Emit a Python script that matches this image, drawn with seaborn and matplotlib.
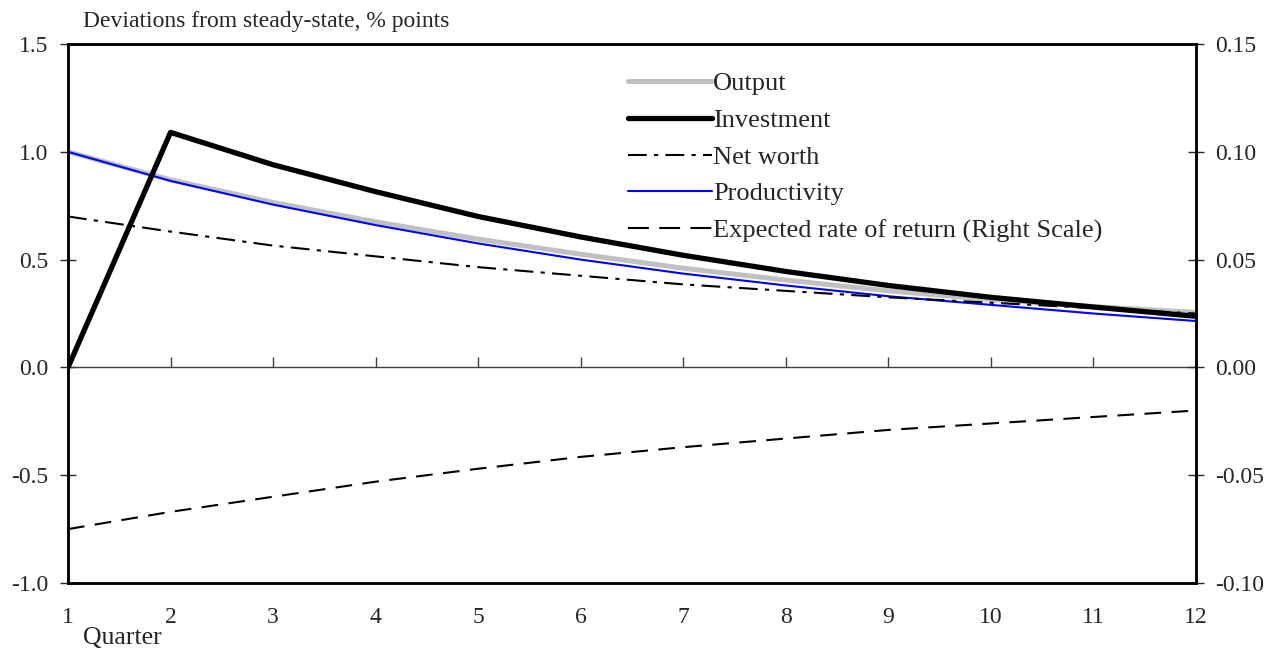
import numpy as np
import pandas as pd
import matplotlib
matplotlib.use("Agg")
import matplotlib.pyplot as plt
import seaborn as sns
from matplotlib.lines import Line2D

# Impulse responses by quarter
quarters = list(range(1, 13))
output = [1.00, 0.87, 0.765, 0.675, 0.595, 0.525, 0.46, 0.405, 0.355, 0.315, 0.282, 0.255]
investment = [0.00, 1.09, 0.94, 0.815, 0.70, 0.605, 0.52, 0.445, 0.38, 0.325, 0.28, 0.237]
net_worth = [0.70, 0.63, 0.565, 0.515, 0.465, 0.425, 0.385, 0.355, 0.325, 0.30, 0.275, 0.25]
productivity = [1.00, 0.865, 0.755, 0.66, 0.575, 0.50, 0.435, 0.38, 0.33, 0.29, 0.25, 0.215]
expected_return = [-0.075, -0.067, -0.060, -0.053, -0.047, -0.0415, -0.037, -0.033, -0.029, -0.026, -0.023, -0.020]

left_ticks = [-1.0, -0.5, 0.0, 0.5, 1.0, 1.5]
right_ticks = [-0.10, -0.05, 0.00, 0.05, 0.10, 0.15]

sns.set_style("white")
plt.rcParams["font.family"] = ["Liberation Serif", "DejaVu Serif"]
plt.rcParams["axes.unicode_minus"] = False
FS = 17
FS_LEG = 19

df = pd.DataFrame({
    "Quarter": quarters,
    "Output": output,
    "Investment": investment,
    "Net worth": net_worth,
    "Productivity": productivity,
    "Expected": expected_return,
})

fig = plt.figure(figsize=(12.82, 6.5), dpi=100)
ax = fig.add_axes([68 / 1282, 1 - 583 / 650, (1196 - 68) / 1282, (583 - 44) / 650])
ax2 = ax.twinx()

grey = "#c0c0c0"
dashdot = (9, 3.5, 2, 3.5)
dashed = (8, 5)

sns.lineplot(data=df, x="Quarter", y="Output", ax=ax, color=grey, lw=3.6, zorder=3)
sns.lineplot(data=df, x="Quarter", y="Productivity", ax=ax, color="#0000ff", lw=1.5, zorder=4)
sns.lineplot(data=df, x="Quarter", y="Net worth", ax=ax, color="black", lw=1.5, zorder=4)
ax.lines[-1].set_dashes(dashdot)
sns.lineplot(data=df, x="Quarter", y="Investment", ax=ax, color="black", lw=3.8, zorder=5)
sns.lineplot(data=df, x="Quarter", y="Expected", ax=ax2, color="black", lw=1.5, zorder=4)
ax2.lines[-1].set_dashes(dashed)

# Zero line with quarter ticks
ax.axhline(0, color="#404040", lw=1.0, zorder=2)
ax.plot(quarters, [0] * len(quarters), linestyle="none", marker=2, markersize=7,
        markeredgewidth=1.0, color="#404040", zorder=2)

ax.set_xlim(1, 12)
ax.set_ylim(-1.0, 1.5)
ax2.set_ylim(-0.10, 0.15)
ax.set_xticks(quarters)
ax.set_xticklabels([str(q) for q in quarters])
ax.set_yticks(left_ticks)
ax.set_yticklabels([f"{v:.1f}" for v in left_ticks])
ax2.set_yticks(right_ticks)
ax2.set_yticklabels([f"{v:.2f}" for v in right_ticks])
ax.set_xlabel("")
ax.set_ylabel("")
ax2.set_ylabel("")

ax.tick_params(axis="x", length=0, pad=17, labelsize=FS)
ax.tick_params(axis="y", direction="inout", length=12, width=1.0, pad=8, labelsize=FS)
ax2.tick_params(axis="y", direction="inout", length=12, width=1.0, pad=8, labelsize=FS)
ax2.tick_params(axis="x", length=0)

for a in (ax, ax2):
    for s in a.spines.values():
        s.set_visible(True)
        s.set_color("black")
        s.set_linewidth(1.8)

fig.text(83 / 1282, 1 - 22 / 650, "Deviations from steady-state, % points",
         fontsize=FS, va="center", ha="left")
fig.text(83 / 1282, 1 - 638 / 650, "Quarter", fontsize=18.5, va="center", ha="left")

handles = [
    Line2D([], [], color=grey, lw=3.6),
    Line2D([], [], color="black", lw=3.8),
    Line2D([], [], color="black", lw=1.5, dashes=dashdot),
    Line2D([], [], color="#0000ff", lw=1.5),
    Line2D([], [], color="black", lw=1.5, dashes=(10, 5)),
]
labels = ["Output", "Investment", "Net worth", "Productivity",
          "Expected rate of return (Right Scale)"]
leg = ax2.legend(handles, labels, loc="upper left",
                 bbox_to_anchor=((628 - 68) / 1128, (583 - 72) / 539),
                 frameon=False, fontsize=FS_LEG, handlelength=3.2, handletextpad=0.02,
                 labelspacing=0.5, borderpad=0, borderaxespad=0)

fig.savefig("out.png", dpi=100)
